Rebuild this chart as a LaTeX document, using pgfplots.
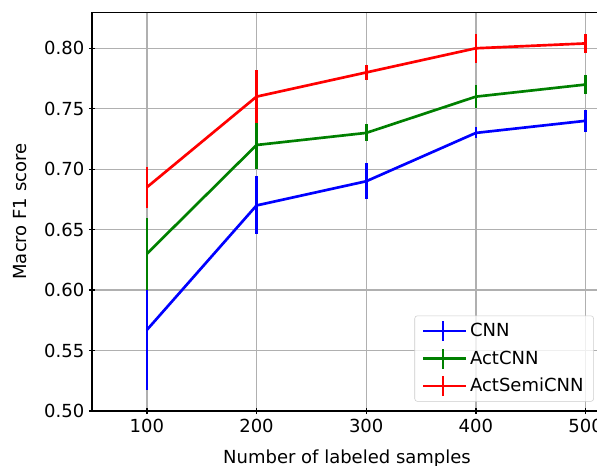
\documentclass[border=0pt]{standalone}
\usepackage{fontspec}
\setmainfont{DejaVu Sans}
\usepackage{pgfplots}
\pgfplotsset{compat=1.18}

\definecolor{mblue}{RGB}{0,0,255}
\definecolor{mgreen}{RGB}{0,128,0}
\definecolor{mred}{RGB}{255,0,0}
\definecolor{gridgray}{RGB}{176,176,176}
\definecolor{legframe}{RGB}{204,204,204}

\begin{document}
\begin{tikzpicture}
\begin{axis}[
    at={(0,0)}, anchor=south west,
    scale only axis,
    width=382.5pt, height=299.25pt,
    xmin=50, xmax=515,
    ymin=0.50, ymax=0.83,
    xtick={100,200,300,400,500},
    ytick={0.50,0.55,0.60,0.65,0.70,0.75,0.80},
    yticklabel style={/pgf/number format/.cd, fixed, fixed zerofill, precision=2},
    /pgf/number format/assume math mode=true,
    font=\fontsize{13.5}{16}\selectfont,
    tick align=outside,
    major tick length=4.5pt,
    tick style={black, line width=1pt},
    xtick pos=bottom, ytick pos=left,
    axis lines=left,
    axis line style={-, black, line width=1pt},
    grid=major,
    grid style={gridgray, line width=1pt},
    xlabel={Number of labeled samples},
    ylabel={Macro F1 score},
    xlabel style={at={(axis description cs:0.5,0)}, anchor=north, inner sep=0pt, yshift=-29pt},
    ylabel style={at={(axis description cs:-0.141,0.5)}, anchor=center, rotate=0},
    legend style={
        at={(axis description cs:0.984,0.0234)}, anchor=south east,
        draw=legframe, rounded corners=2pt, fill=white, fill opacity=0.8, text opacity=1,
        font=\fontsize{13.5}{16}\selectfont,
        row sep=3.6pt, inner xsep=5.5pt, inner ysep=3pt,
        cells={anchor=west},
    },
    legend image code/.code={
        \path (0pt,0pt) -- (32pt,0pt);
        \draw[#1] (0pt,0pt) -- (29.5pt,0pt);
        \draw[#1] (14.75pt,-7.5pt) -- (14.75pt,7.5pt);
    },
    every axis plot/.append style={line width=2pt, mark=none},
    error bars/error bar style={line width=2pt},
]

\addplot[mblue, error bars/.cd, y dir=both, y explicit, error mark=none] coordinates {
    (100,0.567) +- (0,0.050)
    (200,0.670) +- (0,0.024)
    (300,0.690) +- (0,0.015)
    (400,0.730) +- (0,0.0045)
    (500,0.740) +- (0,0.009)
};
\addlegendentry{CNN}

\addplot[mgreen, error bars/.cd, y dir=both, y explicit, error mark=none] coordinates {
    (100,0.630) +- (0,0.030)
    (200,0.720) +- (0,0.020)
    (300,0.730) +- (0,0.007)
    (400,0.760) +- (0,0.0095)
    (500,0.770) +- (0,0.0075)
};
\addlegendentry{ActCNN}

\addplot[mred, error bars/.cd, y dir=both, y explicit, error mark=none] coordinates {
    (100,0.685) +- (0,0.017)
    (200,0.760) +- (0,0.022)
    (300,0.780) +- (0,0.006)
    (400,0.800) +- (0,0.012)
    (500,0.804) +- (0,0.008)
};
\addlegendentry{ActSemiCNN}

\draw[black, line width=1pt] (rel axis cs:0,1) -- (rel axis cs:1,1);
\end{axis}
\pgfresetboundingbox
\path[use as bounding box] (-69pt,-40.5pt) rectangle (378.75pt,308.25pt);
\end{tikzpicture}
\end{document}
